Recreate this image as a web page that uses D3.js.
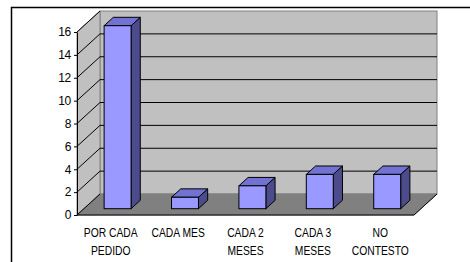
<!DOCTYPE html>
<html><head><meta charset="utf-8">
<script src="https://cdn.jsdelivr.net/npm/d3@7"></script>
<style>body{margin:0;background:#fff}svg{display:block}text{font-family:"Liberation Sans",Arial,sans-serif}</style>
</head><body>
<svg id="c" width="470" height="262"></svg>
<script>
const categories = [["POR CADA","PEDIDO"],["CADA MES"],["CADA 2","MESES"],["CADA 3","MESES"],["NO","CONTESTO"]];
const values = [16, 1, 2, 3, 3];
const yTicks = [0, 2, 4, 6, 8, 10, 12, 14, 16];

(function(){
const svg = d3.select("#c");
const pLeft = 77, pRight = 414, pBottom = 215, pTop = 32;
const DX = 23, DY = -21; // depth offset
const x = d3.scaleBand().domain(d3.range(categories.length)).range([pLeft, pRight]).padding(0);
const y = d3.scaleLinear().domain([0, 16]).range([pBottom, pTop]);

// outer frame
svg.append("rect").attr("x", 11.5).attr("y", 7.5).attr("width", 470).attr("height", 270)
  .attr("fill", "none").attr("stroke", "#000").attr("stroke-width", 1.5);

// back wall
svg.append("rect").attr("x", pLeft + DX).attr("y", y(16) + DY).attr("width", pRight - pLeft)
  .attr("height", y(0) - y(16)).attr("fill", "#C0C0C0").attr("stroke", "#808080");
// left wall
svg.append("path").attr("d", `M${pLeft},${y(0)}L${pLeft},${y(16)}L${pLeft+DX},${y(16)+DY}L${pLeft+DX},${y(0)+DY}Z`)
  .attr("fill", "#C0C0C0").attr("stroke", "#808080");
// floor
svg.append("path").attr("d", `M${pLeft},${y(0)}L${pRight},${y(0)}L${pRight+DX},${y(0)+DY}L${pLeft+DX},${y(0)+DY}Z`)
  .attr("fill", "#808080").attr("stroke", "#808080");
svg.append("line").attr("x1", pLeft).attr("x2", pRight).attr("y1", y(0)).attr("y2", y(0)).attr("stroke", "#000");
svg.append("line").attr("x1", pRight).attr("x2", pRight+DX).attr("y1", y(0)).attr("y2", y(0)+DY).attr("stroke", "#000");
svg.append("line").attr("x1", pLeft).attr("x2", pLeft+DX).attr("y1", y(0)).attr("y2", y(0)+DY).attr("stroke", "#000");

// gridlines on back wall
svg.append("g").selectAll("line").data(yTicks.filter(v => v > 0 && v < 16)).join("line")
  .attr("x1", pLeft + DX).attr("x2", pRight + DX)
  .attr("y1", d => y(d) + DY).attr("y2", d => y(d) + DY)
  .attr("stroke", "#000").attr("stroke-width", 1);
// diagonal lines on left wall
svg.append("g").selectAll("line").data(yTicks.filter(v => v > 0)).join("line")
  .attr("x1", pLeft).attr("x2", pLeft + DX)
  .attr("y1", d => y(d)).attr("y2", d => y(d) + DY)
  .attr("stroke", "#000").attr("stroke-width", 1);

// y axis
const ax = svg.append("g").attr("transform", `translate(${pLeft},0)`)
  .call(d3.axisLeft(y).tickValues(yTicks).tickSize(3).tickPadding(3).tickSizeOuter(0));
ax.select(".domain").attr("stroke", "#000");
ax.selectAll(".tick line").attr("stroke", "#000");
ax.selectAll("text").attr("font-size", "12px").attr("letter-spacing", "-0.3px").attr("fill", "#000")
  .attr("font-family", "Liberation Sans, Arial, sans-serif");

// bars
const f0 = 0.3, f1 = 0.7;
const bw = x.bandwidth() * 0.4;
const bars = svg.append("g").selectAll("g").data(values).join("g");
bars.each(function(v, i) {
  const g = d3.select(this);
  const x0 = x(i) + (x.bandwidth() - bw) / 2 + f0 * DX;
  const yb = y(0) + f0 * DY;
  const yt = y(v) + f0 * DY;
  const ddx = (f1 - f0) * DX, ddy = (f1 - f0) * DY;
  g.append("path").attr("d", `M${x0+bw},${yb}L${x0+bw},${yt}L${x0+bw+ddx},${yt+ddy}L${x0+bw+ddx},${yb+ddy}Z`)
    .attr("fill", "#4C4C8C").attr("stroke", "#000").attr("stroke-width", 1).attr("stroke-linejoin", "round");
  g.append("path").attr("d", `M${x0},${yt}L${x0+bw},${yt}L${x0+bw+ddx},${yt+ddy}L${x0+ddx},${yt+ddy}Z`)
    .attr("fill", "#7272D2").attr("stroke", "#000").attr("stroke-width", 1).attr("stroke-linejoin", "round");
  g.append("rect").attr("x", x0).attr("y", yt).attr("width", bw).attr("height", yb - yt)
    .attr("fill", "#9999FF").attr("stroke", "#000").attr("stroke-width", 1);
});

// category labels (horizontally condensed like the original)
const lab = svg.append("g").selectAll("text").data(categories).join("text")
  .attr("transform", (d, i) => `translate(${x(i) + x.bandwidth() / 2},237) scale(0.86,1)`)
  .attr("text-anchor", "middle").attr("font-size", "12px").attr("fill", "#000");
lab.each(function(d) {
  const t = d3.select(this);
  d.forEach((s, j) => t.append("tspan").attr("x", 0).attr("dy", j === 0 ? 0 : 18).text(s));
});
})();
</script>
</body></html>
